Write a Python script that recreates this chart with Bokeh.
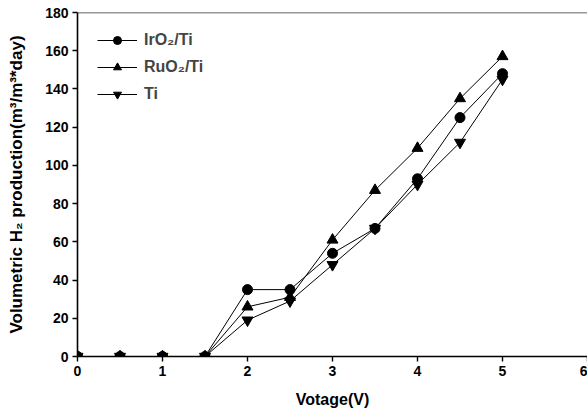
from bokeh.plotting import figure
from bokeh.models import Range1d, FixedTicker, Legend, LegendItem, Span
from bokeh.embed import file_html
from bokeh.resources import INLINE

voltage = [0, 0.5, 1, 1.5, 2, 2.5, 3, 3.5, 4, 4.5, 5]
iro2_ti = [0, 0, 0, 0, 35, 35, 54, 67, 93, 125, 148]
ruo2_ti = [0, 0, 0, 0, 26, 31, 61, 87, 109, 135, 157]
ti = [0, 0, 0, 0, 19, 29, 48, 67, 90, 112, 145]
x_ticks = [0, 1, 2, 3, 4, 5, 6]
y_ticks = [0, 20, 40, 60, 80, 100, 120, 140, 160, 180]
labels = ["IrO\u2082/Ti", "RuO\u2082/Ti", "Ti"]

FONT = "Liberation Sans"

p = figure(width=587, height=414, output_backend="svg", toolbar_location=None,
           x_range=Range1d(0, 6), y_range=Range1d(0, 180),
           min_border_left=77, min_border_right=0, min_border_top=12, min_border_bottom=58)
p.outline_line_color = None
p.xgrid.visible = False
p.ygrid.visible = False

for ax, ticks in ((p.xaxis[0], x_ticks), (p.yaxis[0], y_ticks)):
    ax.ticker = FixedTicker(ticks=ticks)
    ax.minor_tick_line_color = None
    ax.major_tick_out = 5
    ax.major_tick_in = 0
    ax.axis_line_width = 1.6
    ax.major_tick_line_width = 1.4
    ax.axis_line_color = "black"
    ax.major_tick_line_color = "black"
    ax.major_label_text_font = FONT
    ax.major_label_text_font_style = "bold"
    ax.major_label_text_font_size = "14px"
    ax.major_label_text_color = "black"
    ax.axis_label_text_font = FONT
    ax.axis_label_text_font_style = "bold"
    ax.axis_label_text_color = "black"
    ax.major_label_standoff = 4

p.xaxis.axis_label = "Votage(V)"
p.yaxis.axis_label = "Volumetric H\u2082 production(m\u00b3/m\u00b3*day)"
p.xaxis.axis_label_text_font_size = "16px"
p.yaxis.axis_label_text_font_size = "17px"
p.xaxis.axis_label_standoff = 12
p.yaxis.axis_label_standoff = 16

p.add_layout(Span(location=180, dimension="width", line_color="#333333", line_width=1.6))

r1l = p.line(voltage, iro2_ti, line_color="black", line_width=1)
r1m = p.scatter(voltage, iro2_ti, marker="circle", size=10, fill_color="black", line_color="black")
r2l = p.line(voltage, ruo2_ti, line_color="black", line_width=1)
r2m = p.scatter(voltage, ruo2_ti, marker="triangle", size=11, fill_color="black", line_color="black")
r3l = p.line(voltage, ti, line_color="black", line_width=1)
r3m = p.scatter(voltage, ti, marker="inverted_triangle", size=11, fill_color="black", line_color="black")

legend = Legend(items=[LegendItem(label=labels[0], renderers=[r1l, r1m]),
                       LegendItem(label=labels[1], renderers=[r2l, r2m]),
                       LegendItem(label=labels[2], renderers=[r3l, r3m])],
                location=(20, 252), padding=0, margin=0, spacing=7,
                glyph_width=40, glyph_height=20, label_height=20, label_standoff=7,
                label_text_font=FONT, label_text_font_style="bold", label_text_font_size="16px",
                background_fill_alpha=0, border_line_color=None)
p.add_layout(legend, "center")

open("out.html", "w").write(file_html(p, INLINE))
